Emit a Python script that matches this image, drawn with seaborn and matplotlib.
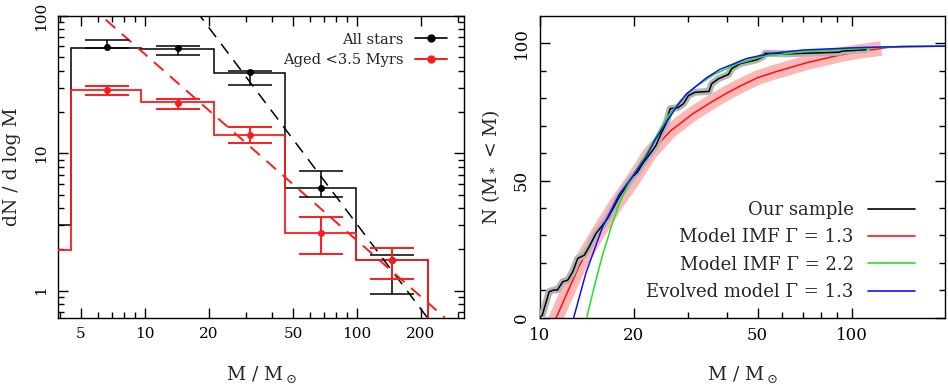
import numpy as np
import pandas as pd
import seaborn as sns
import matplotlib
matplotlib.use("Agg")
import matplotlib.pyplot as plt
from matplotlib.lines import Line2D
from matplotlib.ticker import FixedLocator, NullFormatter, FixedFormatter

# ---------------- data: left panel ----------------
bin_edges = [2.07, 4.5, 9.65, 21.1, 45.7, 99.5, 217]
all_hist = [3.0, 58.8, 57.8, 38.6, 5.58, 1.66]
young_hist = [1.98, 28.8, 23.6, 13.5, 2.65, 1.66]

bin_centres = [6.64, 14.4, 31.3, 67.6, 146.8]
all_pts = [59.5, 58.6, 39.3, 5.58, 1.66]
all_lo = [58.8, 51.9, 31.3, 4.78, 0.94]
all_hi = [66.6, 60.0, 39.6, 7.48, 1.82]
young_pts = [28.8, 23.1, 13.5, 2.65, 1.66]
young_lo = [26.8, 21.2, 11.9, 1.85, 1.21]
young_hi = [30.8, 24.9, 15.5, 3.41, 2.06]

all_fit_m = [17.5, 230]
all_fit_n = [109, 0.553]
young_fit_m = [5.5, 260]
young_fit_n = [119, 0.635]

left_xticks = [5, 10, 20, 50, 100, 200]
left_yticks = [1, 10, 100]

# ---------------- data: right panel ----------------
sample_m = [10.0, 10.2, 10.34, 10.73, 11.1, 11.4, 11.85, 12.3, 12.76, 13.24, 13.9, 14.4,
            15.15, 15.9, 16.5, 17.3, 17.98, 18.9, 19.85, 20.6, 21.4, 22.4, 23.0, 23.6,
            24.5, 25.4, 26.2, 27.8, 28.9, 30.0, 31.5, 34.9, 35.6, 37.4, 40.3, 41.3,
            43.9, 46.1, 49.6, 52.1, 52.8, 62.1, 91.6, 93.0, 111.3]
sample_n = [0, 1.0, 3.4, 9.5, 10.1, 10.1, 13.1, 13.7, 16.7, 21.6, 22.8, 25.8,
            30.7, 33.7, 36.2, 40.4, 44.0, 47.7, 51.3, 53.1, 56.2, 59.2, 61.0, 62.8,
            67.1, 70.7, 76.2, 76.6, 78.0, 81.0, 82.2, 82.5, 85.3, 87.1, 88.7, 90.8,
            92.6, 93.2, 94.0, 95.2, 96.4, 96.2, 96.8, 97.2, 97.7]

imf13_m = [11.3, 12.3, 13.4, 14.5, 15.9, 17.5, 20.0, 22.6, 26.2, 31.1, 36.0, 40.0,
           44.0, 50.0, 56.5, 65.0, 72.0, 82.0, 92.0, 105, 118, 130, 143, 200]
imf13_n = [0, 9.5, 19, 26, 33.5, 41, 50.5, 60, 68, 74.5, 79, 82,
           84.5, 87.5, 89.5, 91.5, 93, 94.5, 95.8, 97, 97.8, 98.5, 98.9, 99]

imf22_m = [14.15, 14.96, 15.9, 17.1, 18.2, 19.4, 20.7, 22.0, 24.3, 26.0, 28.2, 31.0,
           36.0, 42.8, 52.1, 70, 101, 123, 150, 200]
imf22_n = [0, 11.3, 22.8, 34.4, 43, 49.5, 55, 60, 68.5, 74, 79, 83.5,
           88.5, 92.5, 95.3, 97, 98, 98.5, 98.9, 99]

evol_m = [12.85, 14.07, 15.9, 18.0, 19.85, 21.9, 23.5, 25.4, 27.5, 29.5, 34.3, 37.8,
          46.1, 54.6, 70, 101, 123, 200]
evol_n = [0, 16.3, 33, 45, 51.5, 58.5, 65, 71, 77, 81.5, 87.5, 90.5,
          94.5, 96.3, 97.6, 98.4, 98.7, 99]

right_xticks = [10, 20, 50, 100]
right_yticks = [0, 50, 100]

# ---------------- style ----------------
sns.set_style("ticks")
plt.rcParams["font.family"] = ["DejaVu Serif"]
plt.rcParams["mathtext.fontset"] = "dejavuserif"
plt.rcParams["mathtext.default"] = "regular"
plt.rcParams["axes.linewidth"] = 1.0

fig = plt.figure(figsize=(9.48, 3.88), dpi=100)
W, H = 948, 388
axL = fig.add_axes([58 / W, (H - 317.7) / H, (464 - 58) / W, (317.7 - 16) / H])
axR = fig.add_axes([539.7 / W, (H - 317.7) / H, (944.7 - 539.7) / W, (317.7 - 16) / H])

LAB = 13.5
RED = "#ff1a1a"

# ---------------- left panel ----------------
axL.set_xscale("log")
axL.set_yscale("log")
axL.set_xlim(3.9, 320)
axL.set_ylim(0.635, 100)

axL.stairs(all_hist, bin_edges, baseline=0.01, color="black", lw=1.1, zorder=2)
axL.stairs(young_hist, bin_edges, baseline=0.01, color=RED, lw=1.3, zorder=3)

dfa = pd.DataFrame({"m": all_fit_m, "n": all_fit_n})
dfy = pd.DataFrame({"m": young_fit_m, "n": young_fit_n})
sns.lineplot(data=dfa, x="m", y="n", ax=axL, color="black", lw=1.1, zorder=4)
sns.lineplot(data=dfy, x="m", y="n", ax=axL, color=RED, lw=1.4, zorder=4)
axL.lines[-2].set_dashes((8, 5.5))
axL.lines[-1].set_dashes((6.5, 4.5))

y_all = np.array(all_pts)
y_yng = np.array(young_pts)
axL.errorbar(bin_centres, y_all,
             yerr=[y_all - np.array(all_lo), np.array(all_hi) - y_all],
             fmt="o", color="black", ms=4, capsize=15.5, elinewidth=1.1,
             capthick=1.1, zorder=5)
axL.errorbar(bin_centres, y_yng,
             yerr=[y_yng - np.array(young_lo), np.array(young_hi) - y_yng],
             fmt="o", color=RED, ms=4, capsize=15.5, elinewidth=1.4,
             capthick=1.4, zorder=6)

axL.xaxis.set_major_locator(FixedLocator(left_xticks))
axL.xaxis.set_major_formatter(FixedFormatter([str(t) for t in left_xticks]))
axL.xaxis.set_minor_locator(FixedLocator([4, 6, 7, 8, 9, 30, 40, 60, 70, 80, 90, 300]))
axL.xaxis.set_minor_formatter(NullFormatter())
axL.yaxis.set_major_locator(FixedLocator(left_yticks))
axL.yaxis.set_major_formatter(FixedFormatter([str(t) for t in left_yticks]))
axL.yaxis.set_minor_locator(FixedLocator([0.7, 0.8, 0.9, 2, 3, 4, 5, 6, 7, 8, 9,
                                          20, 30, 40, 50, 60, 70, 80, 90]))
axL.yaxis.set_minor_formatter(NullFormatter())

handles_L = [Line2D([], [], color="black", marker="o", ms=5, lw=1.2),
             Line2D([], [], color=RED, marker="o", ms=5, lw=1.4)]
axL.legend(handles_L, ["All stars", "Aged <3.5 Myrs"], loc="upper right",
           bbox_to_anchor=(0.958, 0.945), frameon=False, markerfirst=False,
           fontsize=10.5, handlelength=2.2, handletextpad=0.75, labelspacing=0.42,
           borderpad=0, borderaxespad=0)

axL.set_xlabel("M / M$_\\odot$", fontsize=LAB)
axL.set_ylabel("dN / d log M", fontsize=LAB)
axL.xaxis.set_label_coords(0.5, -0.155)
axL.yaxis.set_label_coords(-0.09, 0.5)

# ---------------- right panel ----------------
axR.set_xscale("log")
axR.set_xlim(10, 199)
axR.set_ylim(0, 110)

df13 = pd.DataFrame({"m": imf13_m, "n": imf13_n})
df22 = pd.DataFrame({"m": imf22_m, "n": imf22_n})
dfev = pd.DataFrame({"m": evol_m, "n": evol_n})
dfs = pd.DataFrame({"m": sample_m, "n": sample_n})
band13 = df13[df13["m"] <= 120]

sns.lineplot(data=band13, x="m", y="n", ax=axR, color="#ffb6b6", lw=10.5, sort=False,
             estimator=None, solid_capstyle="projecting", zorder=1)
sns.lineplot(data=df13, x="m", y="n", ax=axR, color="#ff1010", lw=1.1, sort=False,
             estimator=None, zorder=2)
sns.lineplot(data=dfs, x="m", y="n", ax=axR, color="#b4b4b4", lw=5, sort=False,
             estimator=None, solid_capstyle="round", zorder=3)
sns.lineplot(data=dfs, x="m", y="n", ax=axR, color="black", lw=1.1, sort=False,
             estimator=None, zorder=4)
sns.lineplot(data=df22, x="m", y="n", ax=axR, color="#22e022", lw=1.1, sort=False,
             estimator=None, zorder=5)
sns.lineplot(data=dfev, x="m", y="n", ax=axR, color="#1010ff", lw=1.1, sort=False,
             estimator=None, zorder=6)

axR.xaxis.set_major_locator(FixedLocator(right_xticks))
axR.xaxis.set_major_formatter(FixedFormatter([str(t) for t in right_xticks]))
axR.xaxis.set_minor_locator(FixedLocator([30, 40, 60, 70, 80, 90]))
axR.xaxis.set_minor_formatter(NullFormatter())
axR.yaxis.set_major_locator(FixedLocator(right_yticks))
axR.yaxis.set_major_formatter(FixedFormatter([str(t) for t in right_yticks]))
axR.yaxis.set_minor_locator(FixedLocator([10, 20, 30, 40, 60, 70, 80, 90]))
axR.yaxis.set_minor_formatter(NullFormatter())

handles_R = [Line2D([], [], color="black", lw=1.2),
             Line2D([], [], color="#ff1010", lw=1.2),
             Line2D([], [], color="#22e022", lw=1.2),
             Line2D([], [], color="#1010ff", lw=1.2)]
axR.legend(handles_R, ["Our sample", "Model IMF \u0393 = 1.3", "Model IMF \u0393 = 2.2",
                       "Evolved model \u0393 = 1.3"],
           loc="lower right", bbox_to_anchor=(0.927, 0.055), frameon=False,
           markerfirst=False, fontsize=13, handlelength=2.6, handletextpad=0.8,
           labelspacing=0.52, borderpad=0, borderaxespad=0)

axR.set_xlabel("M / M$_\\odot$", fontsize=LAB)
axR.set_ylabel("N (M$_*$ < M)", fontsize=LAB)
axR.xaxis.set_label_coords(0.5, -0.155)
axR.yaxis.set_label_coords(-0.092, 0.5)

for ax, fs in ((axL, 11), (axR, 12)):
    ax.tick_params(which="both", direction="in", top=True, right=True, width=1.0,
                   colors="black", labelsize=fs)
    ax.tick_params(which="major", length=7, pad=7)
    ax.tick_params(which="minor", length=4)
    for lab in ax.get_yticklabels():
        lab.set_rotation(90)
        lab.set_va("center")
    for s in ax.spines.values():
        s.set_color("black")
        s.set_linewidth(1.0)

fig.savefig("out.png", dpi=100)
